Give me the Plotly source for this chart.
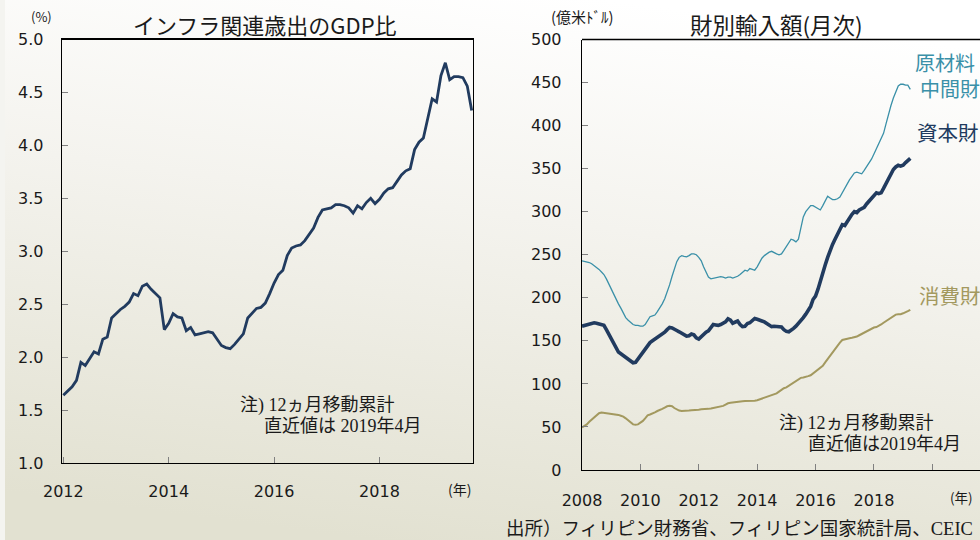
import base64
import pandas as pd
import plotly.graph_objects as go

# ---------------- data ----------------
# Left: infrastructure spending, % of GDP (12-month moving sum), monthly points
infra_ticks = ["2012", "2014", "2016", "2018"]
infra_pct = [
    1.64, 1.68, 1.72, 1.78, 1.95, 1.92, 1.98, 2.05, 2.03, 2.17, 2.19, 2.37,
    2.41, 2.45, 2.48, 2.52, 2.60, 2.58, 2.67, 2.69, 2.64, 2.60, 2.56, 2.26,
    2.32, 2.41, 2.38, 2.37, 2.25, 2.28, 2.21, 2.22, 2.23, 2.24, 2.23, 2.17,
    2.11, 2.09, 2.08, 2.12, 2.17, 2.22, 2.37, 2.42, 2.46, 2.47, 2.51, 2.60,
    2.70, 2.78, 2.82, 2.96, 3.03, 3.05, 3.06, 3.10, 3.16, 3.22, 3.32, 3.39,
    3.40, 3.41, 3.44, 3.44, 3.43, 3.41, 3.36, 3.43, 3.40, 3.46, 3.50, 3.45,
    3.49, 3.55, 3.59, 3.60, 3.66, 3.72, 3.76, 3.78, 3.96, 4.03, 4.07, 4.26,
    4.44, 4.41, 4.66, 4.78, 4.62, 4.65, 4.65, 4.64, 4.56, 4.33,
]

# Right: imports by goods type (100 million USD, 12-month moving sum), 2008-01 .. 2019-04
imp_months = pd.date_range("2008-01-01", "2019-04-01", freq="MS")
imp_ticks = ["2008", "2010", "2012", "2014", "2016", "2018", ""]
raw_intermediate = [
    243, 242.5, 242, 241, 239.5, 237.5, 235, 233, 230, 227, 222, 216,
    209, 204, 198, 193, 188, 182, 177, 174, 171, 169, 168, 168,
    167, 167, 169, 174, 178, 179, 180, 184, 188, 193, 199, 206,
    215, 225, 234, 242, 247, 249, 248, 247.5, 249, 251, 251, 250,
    247, 243, 236, 229, 224, 222, 222.5, 223, 224, 224.5, 224, 223,
    224, 224, 223, 224, 225, 227, 229, 232, 231, 234, 233, 232,
    236, 242, 246, 249, 251, 253, 254, 252, 251, 250, 251, 255,
    260, 264, 268, 267, 265, 268, 281, 294, 300, 304, 307, 307,
    305, 303, 302, 307, 313, 318, 316, 314, 314, 315, 317, 322,
    328, 332, 337, 341, 345, 346, 345, 344, 348, 352, 357, 361,
    367, 373, 378, 384, 391, 402, 413, 423, 432, 440, 446, 448,
    448, 447, 447, 442,
]
capital = [
    167, 168, 169, 170, 171, 171, 170.5, 170, 169.5, 168, 163, 158,
    152, 147, 141, 137, 135, 133, 131, 129, 126, 124.5, 125, 129,
    132, 136, 141, 145, 148, 150, 152, 153.5, 155, 157, 160, 163,
    165.5, 165, 163, 162, 160.5, 159, 157, 155.5, 156, 158, 157, 153.5,
    152, 155, 158, 160, 161.5, 165, 169, 168.5, 168, 169, 170, 172,
    175.5, 174, 170.5, 172, 173, 169, 166.5, 167, 170, 171, 174, 176,
    175, 173.5, 173, 172, 170, 168, 166.5, 167, 166.5, 167, 166, 163,
    161, 160.5, 162, 164.5, 167, 170, 173, 177, 181, 186, 190, 198,
    202, 210, 220, 230, 238, 247, 255, 262, 268, 273, 279, 285,
    284, 289, 294, 297, 300, 299, 302, 303, 305, 309, 312, 316,
    319, 322, 321, 322, 327, 333, 338, 343, 349, 352, 354, 353,
    354, 357, 360, 362,
]
consumer = [
    49.5, 51, 53, 56, 58.5, 61, 64, 66, 66.8, 66.5, 66, 65.8,
    65.5, 65, 64.5, 64, 63, 62, 60, 57.5, 55, 53, 52.5, 53,
    55, 57, 60, 63.5, 64.5, 65.5, 67, 68.5, 69.5, 71, 72.5, 74,
    74.5, 74, 72, 70, 69, 68.5, 68.5, 69, 69, 69.5, 69.5, 70,
    70, 70.5, 70.5, 71, 71, 71.5, 72, 72.5, 73, 73.5, 74.5, 76,
    77.5, 78, 78.5, 79, 79.3, 79.5, 79.8, 80, 80, 80.2, 80.4, 80.5,
    81, 82, 83, 84, 85, 85.5, 86.5, 87.5, 89, 91, 93.5, 95,
    96, 98, 100, 102, 104, 106, 107, 107.5, 108, 109, 110, 112,
    114, 116, 118.5, 121, 125, 129, 133, 137, 141, 145, 148, 151,
    152, 153, 153, 153.5, 154, 155, 156.5, 158, 159, 160.5, 162, 164,
    165.5, 166, 167, 169, 171, 173, 175, 177, 179, 180.5, 181, 181,
    182, 183, 184.5, 186,
]

# ---------------- figure ----------------
W, H = 980, 540


def px(x):
    return x / W


def py(y):
    return 1 - y / H


NAVY = "#213b5f"
TEAL = "#3a90a8"
OLIVE = "#a3995f"
TXT = "#1a1a1a"
JP = "Noto Sans CJK JP, Noto Sans, sans-serif"
NUM = "DejaVu Sans, Noto Sans CJK JP, sans-serif"
SERIF = "Liberation Serif, Noto Sans CJK JP, serif"

fig = go.Figure()

fig.add_trace(go.Scatter(
    x=list(range(len(infra_pct))), y=infra_pct, mode="lines",
    line=dict(color=NAVY, width=2.8), xaxis="x", yaxis="y", showlegend=False,
    hoverinfo="skip"))

fig.add_trace(go.Scatter(
    x=imp_months, y=raw_intermediate, mode="lines",
    line=dict(color=TEAL, width=1.3), xaxis="x2", yaxis="y2", showlegend=False,
    hoverinfo="skip"))
fig.add_trace(go.Scatter(
    x=imp_months, y=capital, mode="lines",
    line=dict(color=NAVY, width=3.6), xaxis="x2", yaxis="y2", showlegend=False,
    hoverinfo="skip"))
fig.add_trace(go.Scatter(
    x=imp_months, y=consumer, mode="lines",
    line=dict(color=OLIVE, width=2.0), xaxis="x2", yaxis="y2", showlegend=False,
    hoverinfo="skip"))

# background gradient as svg image
svg = (
    '<svg xmlns="http://www.w3.org/2000/svg" width="980" height="540" preserveAspectRatio="none">'
    '<defs><linearGradient id="g" x1="0.62" y1="0" x2="0.38" y2="1">'
    '<stop offset="0" stop-color="#ffffff"/>'
    '<stop offset="0.4" stop-color="#f4f3ee"/>'
    '<stop offset="1" stop-color="#e2e1d1"/>'
    '</linearGradient></defs>'
    '<rect width="980" height="540" fill="url(#g)"/>'
    '<rect width="5" height="540" fill="#f4f4f0"/>'
    '</svg>'
)
uri = "data:image/svg+xml;base64," + base64.b64encode(svg.encode()).decode()

axis_common = dict(
    showgrid=False, zeroline=False, showline=True, linecolor="#000000",
    linewidth=1.3, ticks="inside", ticklen=6, tickcolor="#808080", tickwidth=1,
    automargin=False,
    tickfont=dict(family=NUM, size=16, color=TXT),
)

fig.update_layout(
    width=W, height=H,
    autosize=False,
    margin=dict(l=0, r=0, t=0, b=0, pad=0),
    paper_bgcolor="#ecebe1",
    plot_bgcolor="#ffffff",
    images=[dict(source=uri, xref="paper", yref="paper", x=0, y=1,
                 sizex=1, sizey=1, xanchor="left", yanchor="top",
                 sizing="stretch", layer="below")],
    xaxis=dict(domain=[px(62), px(473)], range=[-0.3, 93.3],
               tickvals=[0, 24, 48, 72], ticktext=infra_ticks,
               mirror=True, ticklabelstandoff=13, anchor="y", **axis_common),
    yaxis=dict(domain=[py(463), py(39.5)], range=[1, 5], dtick=0.5,
               tickformat=".1f", mirror=True, ticklabelstandoff=14,
               anchor="x", **axis_common),
    xaxis2=dict(domain=[px(582), 1.0],
                range=["2008-01-01", "2021-08-20"],
                tickvals=[f"{y}-01-01" for y in range(2008, 2021, 2)],
                ticktext=imp_ticks, ticklabelstandoff=15, anchor="y2",
                **axis_common),
    yaxis2=dict(domain=[py(470), py(39.5)], range=[0, 500], dtick=50,
                ticklabelstandoff=16, anchor="x2", **axis_common),
    shapes=[dict(type="line", xref="x2 domain", yref="y2 domain",
                 x0=0, x1=1, y0=1, y1=1,
                 line=dict(color="#000000", width=1.3))],
)


def ann(text, x, y, size, color=TXT, family=JP, xanchor="center"):
    fig.add_annotation(text=text, x=px(x), y=py(y), xref="paper", yref="paper",
                       showarrow=False, xanchor=xanchor, yanchor="middle",
                       font=dict(family=family, size=size, color=color))


# titles and units
ann("インフラ関連歳出のGDP比", 265, 24, 22)
ann("(%)", 41, 17, 13)
ann("(年)", 459, 489, 14)
ann("財別輸入額(月次)", 776, 24, 22.5)
ann("(億米ﾄﾞﾙ)", 582, 17, 15)
ann("(年)", 961, 497, 13.5)

# series labels
ann("原材料・", 913, 62, 20, TEAL, xanchor="left")
ann("中間財", 918, 88, 20, TEAL, xanchor="left")
ann("資本財", 915, 132, 20.5, NAVY, xanchor="left")
ann("消費財", 917, 295, 20.5, OLIVE, xanchor="left")

# notes
ann("注) 12ヵ月移動累計", 238, 405, 18, family=SERIF, xanchor="left")
ann("直近値は 2019年4月", 262, 426, 18, family=SERIF, xanchor="left")
ann("注) 12ヵ月移動累計", 777, 423, 18, family=SERIF, xanchor="left")
ann("直近値は2019年4月", 806, 444, 18, family=SERIF, xanchor="left")

# source
ann("出所）フィリピン財務省、フィリピン国家統計局、CEIC", 504, 529, 18.5,
    family=SERIF, xanchor="left")

fig.write_html(
    "out.html",
    config={"displayModeBar": False, "staticPlot": True},
    post_script="document.body.style.margin='0';document.body.style.padding='0';"
                "document.body.style.overflow='hidden';",
)
